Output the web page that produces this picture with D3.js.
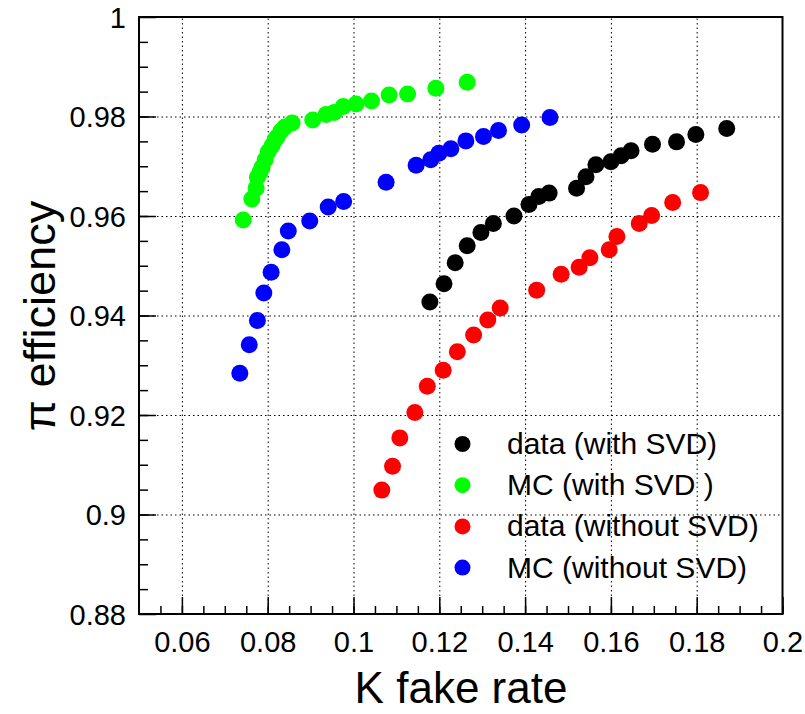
<!DOCTYPE html>
<html>
<head>
<meta charset="utf-8">
<script src="https://cdn.jsdelivr.net/npm/d3@7"></script>
<style>
  body { margin: 0; background: #fff; }
  text { font-family: "Liberation Sans", Arial, Helvetica, sans-serif; }
  .grid line { stroke: #000; stroke-width: 1; stroke-dasharray: 1.5,3; }
  .grid path { display: none; }
  .ax path { display: none; }
  .ax line { stroke: #000; stroke-width: 1.5; }
</style>
</head>
<body>
<svg id="chart" width="805" height="714"></svg>
<script>
// data (with SVD)
const dataSvdX = [0.1178, 0.1211, 0.1237, 0.1265, 0.1297, 0.1326, 0.1374, 0.1409, 0.1432, 0.1456,
                  0.1520, 0.1542, 0.1565, 0.1600, 0.1624, 0.1647, 0.1697, 0.1753, 0.1798, 0.1870];
const dataSvdY = [0.9427, 0.9464, 0.9506, 0.9540, 0.9567, 0.9585, 0.9600, 0.9623, 0.9639, 0.9646,
                  0.9656, 0.9679, 0.9703, 0.9709, 0.9721, 0.9731, 0.9744, 0.9749, 0.9764, 0.9776];
// MC (with SVD)
const mcSvdX = [0.0743, 0.0763, 0.0773, 0.0776, 0.0782, 0.0787, 0.0794, 0.0801, 0.0810, 0.0817,
                0.0822, 0.0831, 0.0840, 0.0857, 0.0905, 0.0936, 0.0955, 0.0976, 0.1006, 0.1042,
                0.1083, 0.1126, 0.1192, 0.1265];
const mcSvdY = [0.9592, 0.9634, 0.9656, 0.9678, 0.9688, 0.9698, 0.9713, 0.9729, 0.9741, 0.9753,
                0.9759, 0.9771, 0.9779, 0.9787, 0.9793, 0.9804, 0.9808, 0.9820, 0.9825, 0.9831,
                0.9843, 0.9845, 0.9857, 0.9869];
// data (without SVD)
const dataNoSvdX = [0.1066, 0.1091, 0.1108, 0.1143, 0.1172, 0.1209, 0.1242, 0.1280, 0.1313, 0.1342,
                    0.1427, 0.1484, 0.1526, 0.1551, 0.1596, 0.1614, 0.1666, 0.1695, 0.1744, 0.1809];
const dataNoSvdY = [0.9049, 0.9097, 0.9154, 0.9205, 0.9258, 0.9290, 0.9327, 0.9361, 0.9391, 0.9415,
                    0.9451, 0.9483, 0.9497, 0.9516, 0.9532, 0.9559, 0.9585, 0.9601, 0.9627, 0.9647];
// MC (without SVD)
const mcNoSvdX = [0.0735, 0.0757, 0.0776, 0.0791, 0.0808, 0.0833, 0.0848, 0.0898, 0.0941, 0.0977,
                  0.1076, 0.1146, 0.1180, 0.1199, 0.1227, 0.1262, 0.1303, 0.1338, 0.1392, 0.1458];
const mcNoSvdY = [0.9284, 0.9341, 0.9390, 0.9445, 0.9487, 0.9532, 0.9570, 0.9590, 0.9618, 0.9629,
                  0.9668, 0.9702, 0.9713, 0.9726, 0.9735, 0.9751, 0.9760, 0.9772, 0.9783, 0.9798];

const legendNames = ["data (with SVD)", "MC (with SVD )", "data (without SVD)", "MC (without SVD)"];
const colors = ["#000000", "#00ff00", "#ff0000", "#0000ff"];

const xTicks = [0.06, 0.08, 0.1, 0.12, 0.14, 0.16, 0.18, 0.2];
const yTicks = [0.88, 0.9, 0.92, 0.94, 0.96, 0.98, 1];
const xMinor = d3.range(0.055, 0.2, 0.005);
const yMinor = d3.range(0.885, 1, 0.005);

const series = [
  {x: dataSvdX, y: dataSvdY},
  {x: mcSvdX, y: mcSvdY},
  {x: dataNoSvdX, y: dataNoSvdY},
  {x: mcNoSvdX, y: mcNoSvdY}
];

var svg = d3.select("#chart");
// plot frame (window.top is reserved, hence the prefix)
var padL = 139, padR = 782.5, padT = 17, padB = 614;

var x = d3.scaleLinear().domain([0.05, 0.2]).range([padL, padR]);
var y = d3.scaleLinear().domain([0.88, 1]).range([padB, padT]);

// dotted grid
svg.append("g").attr("class", "grid")
  .attr("transform", `translate(0,${padB})`)
  .call(d3.axisBottom(x).tickValues(xTicks.filter(d => d < 0.195)).tickSize(-(padB - padT)).tickFormat(""));
svg.append("g").attr("class", "grid")
  .attr("transform", `translate(${padL},0)`)
  .call(d3.axisLeft(y).tickValues(yTicks.filter(d => d > 0.885 && d < 0.995)).tickSize(-(padR - padL)).tickFormat(""));

// minor ticks
svg.append("g").attr("class", "ax")
  .attr("transform", `translate(0,${padB})`)
  .call(d3.axisBottom(x).tickValues(xMinor).tickSize(-8).tickFormat(""));
svg.append("g").attr("class", "ax")
  .attr("transform", `translate(${padL},0)`)
  .call(d3.axisLeft(y).tickValues(yMinor).tickSize(-9).tickFormat(""));

// major ticks + labels
var xAx = svg.append("g").attr("class", "ax")
  .attr("transform", `translate(0,${padB})`)
  .call(d3.axisBottom(x).tickValues(xTicks).tickSizeInner(-17).tickSizeOuter(0).tickPadding(17).tickFormat(d3.format("")));
xAx.selectAll("text").attr("font-size", 29).attr("fill", "#000").style("font-family", null);

var yAx = svg.append("g").attr("class", "ax")
  .attr("transform", `translate(${padL},0)`)
  .call(d3.axisLeft(y).tickValues(yTicks).tickSizeInner(-17).tickSizeOuter(0).tickPadding(13).tickFormat(d3.format("")));
yAx.selectAll("text").attr("font-size", 29).attr("fill", "#000").attr("dy", "0.36em").style("font-family", null);
xAx.attr("font-family", null); yAx.attr("font-family", null);

// frame
svg.append("rect")
  .attr("x", padL).attr("y", padT)
  .attr("width", padR - padL).attr("height", padB - padT)
  .attr("fill", "none").attr("stroke", "#000").attr("stroke-width", 2);

// markers
series.forEach(function(s, i) {
  svg.append("g").selectAll("circle")
    .data(s.x.map((v, j) => [v, s.y[j]]))
    .enter().append("circle")
    .attr("cx", d => x(d[0]))
    .attr("cy", d => y(d[1]))
    .attr("r", 8.5)
    .attr("fill", colors[i]);
});

// legend
var leg = svg.append("g");
legendNames.forEach(function(name, i) {
  var cy = 444 + i * 41.2;
  leg.append("circle").attr("cx", 462.5).attr("cy", cy).attr("r", 8).attr("fill", colors[i]);
  leg.append("text").attr("x", 507).attr("y", cy + 10).attr("font-size", 30).text(name);
});

// axis titles
svg.append("text")
  .attr("x", 461).attr("y", 703)
  .attr("text-anchor", "middle")
  .attr("font-size", 44)
  .text("K fake rate");

svg.append("text")
  .attr("transform", "translate(55,316) rotate(-90)")
  .attr("text-anchor", "middle")
  .attr("font-size", 45)
  .text("π efficiency");
</script>
</body>
</html>
